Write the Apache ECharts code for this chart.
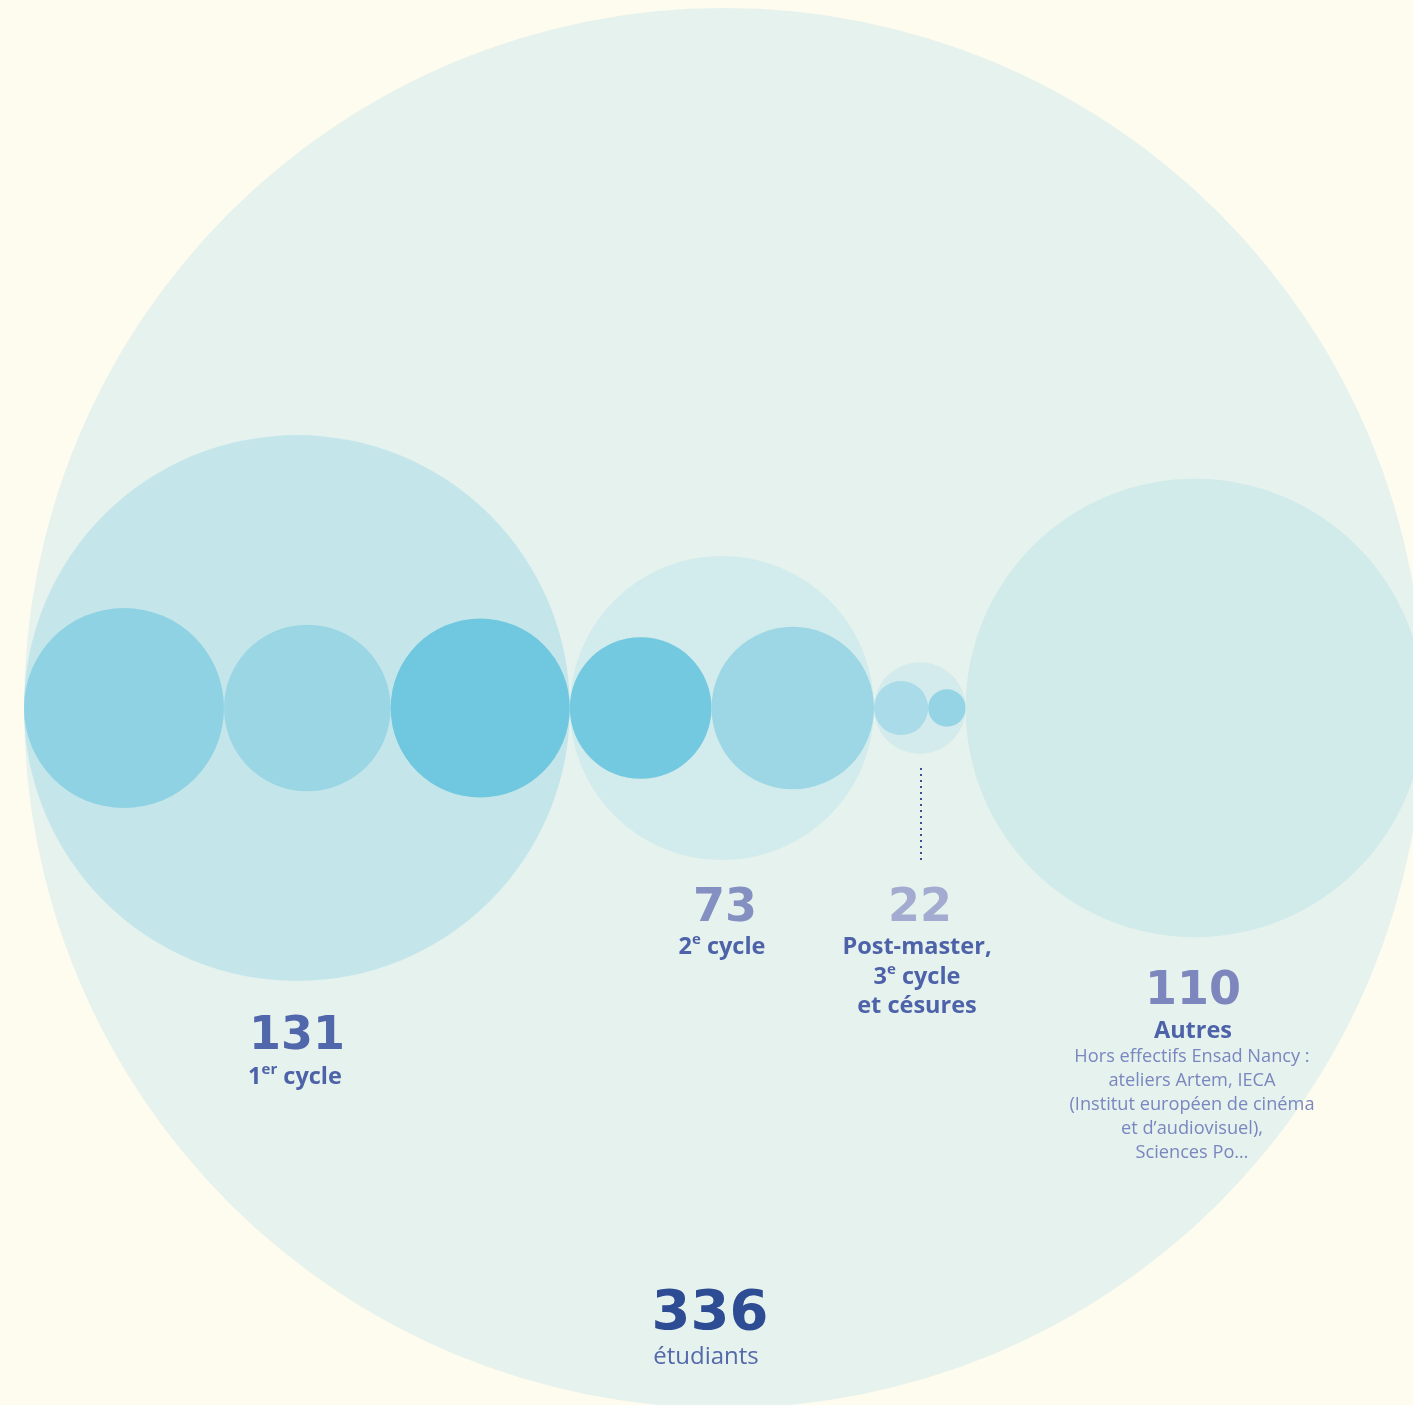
<!DOCTYPE html>
<html>
<head>
<meta charset="utf-8">
<script src="https://cdn.jsdelivr.net/npm/echarts@6/dist/echarts.min.js"></script>
<style>
  html, body { margin: 0; padding: 0; background: #fefbef; }
  #chart { width: 1413px; height: 1405px; }
</style>
</head>
<body>
<div id="chart"></div>
<script>
// effectifs
const total = 336;
const groupValues = [131, 73, 22, 110];
const subValues = [[48, 40, 43], [34, 39], [13, 9], []];

const totalColor = '#e5f2ed';
const groupColors = ['#c4e6ea', '#d2ebec', '#d3ebec', '#d1eaea'];
const subColors = [['#8ed2e3', '#9ad6e4', '#70c8e0'], ['#73c9e0', '#9dd7e5'], ['#a9dce8', '#95d4e5'], []];

// construction des cercles : [cx, cy, r, couleur]
let circles = [];
circles.push([total, 0, total, totalColor]);
let x = 0;
groupValues.forEach(function (v, i) {
  circles.push([x + v, 0, v, groupColors[i]]);
  let sx = x;
  subValues[i].forEach(function (s, j) {
    circles.push([sx + s, 0, s, subColors[i][j]]);
    sx += 2 * s;
  });
  x += 2 * v;
});

const chart = echarts.init(document.getElementById('chart'));
const numFont = '"DejaVu Sans"';
const font = '"Open Sans"';
const dark = '#4d62a8';
const sup = { fontSize: 15, fontWeight: 'bold', fontFamily: font, fill: dark, verticalAlign: 'top', lineHeight: 22, padding: [0, 0, 10, 0] };
const bold = { fontSize: 23.5, fontWeight: 'bold', fontFamily: font, fill: dark, lineHeight: 30 };

function bigNum(txt, cx, cy, color, size) {
  return { type: 'text', x: cx, y: cy, z: 100, style: { text: txt, fill: color, font: 'bold ' + size + 'px ' + numFont, textAlign: 'center', textVerticalAlign: 'middle' } };
}
function richText(txt, cx, cy) {
  return {
    type: 'text', x: cx, y: cy, z: 100,
    style: { text: txt, align: 'center', verticalAlign: 'middle', rich: { b: bold, s: sup } }
  };
}
function plain(txt, cx, cy, size, color) {
  return { type: 'text', x: cx, y: cy, z: 100, style: { text: txt, fill: color, font: size + 'px ' + font, textAlign: 'center', textVerticalAlign: 'middle' } };
}

const autresLines = ['Hors effectifs Ensad Nancy :', 'ateliers Artem, IECA', '(Institut européen de cinéma', 'et d\u2019audiovisuel),', 'Sciences Po\u2026'];

let graphics = [
  bigNum(String(groupValues[0]), 297, 1037, '#5068ab', 46),
  richText('{b|1}{s|er}{b| cycle}', 295, 1077),
  bigNum(String(groupValues[1]), 725, 909, '#8590c2', 46),
  richText('{b|2}{s|e}{b| cycle}', 722, 947),
  bigNum(String(groupValues[2]), 920, 909, '#a3acd0', 46),
  richText('{b|Post-master,}', 917, 947),
  richText('{b|3}{s|e}{b| cycle}', 917, 977),
  richText('{b|et césures}', 917, 1006),
  bigNum(String(groupValues[3]), 1193, 992, '#7d86bd', 46),
  richText('{b|Autres}', 1193, 1031),
  bigNum(String(total), 710, 1314, '#2d4c94', 56),
  plain('étudiants', 706, 1357, 24, '#5468ab'),
  {
    type: 'line', z: 100,
    shape: { x1: 921, y1: 768, x2: 921, y2: 862 },
    style: { stroke: '#3e4f8f', lineWidth: 2, lineDash: [2, 4] }
  }
];
autresLines.forEach(function (t, i) {
  graphics.push(plain(t, 1192, 1057 + i * 24, 18.2, '#7a86bf'));
});

const option = {
  backgroundColor: '#fefbef',
  animation: false,
  grid: { left: 24, top: 8, width: 1400, height: 1400, outerBoundsMode: 'none', containLabel: false },
  xAxis: { type: 'value', min: 0, max: 2 * total, show: false },
  yAxis: { type: 'value', min: -total, max: total, show: false },
  series: [{
    type: 'custom',
    coordinateSystem: 'cartesian2d',
    data: circles,
    silent: true,
    clip: false,
    renderItem: function (params, api) {
      const d = circles[params.dataIndex];
      const p = api.coord([d[0], d[1]]);
      const r = api.size([d[2], 0])[0];
      return { type: 'circle', shape: { cx: p[0], cy: p[1], r: r }, style: { fill: d[3] } };
    }
  }],
  graphic: graphics
};
chart.setOption(option);
</script>
</body>
</html>
